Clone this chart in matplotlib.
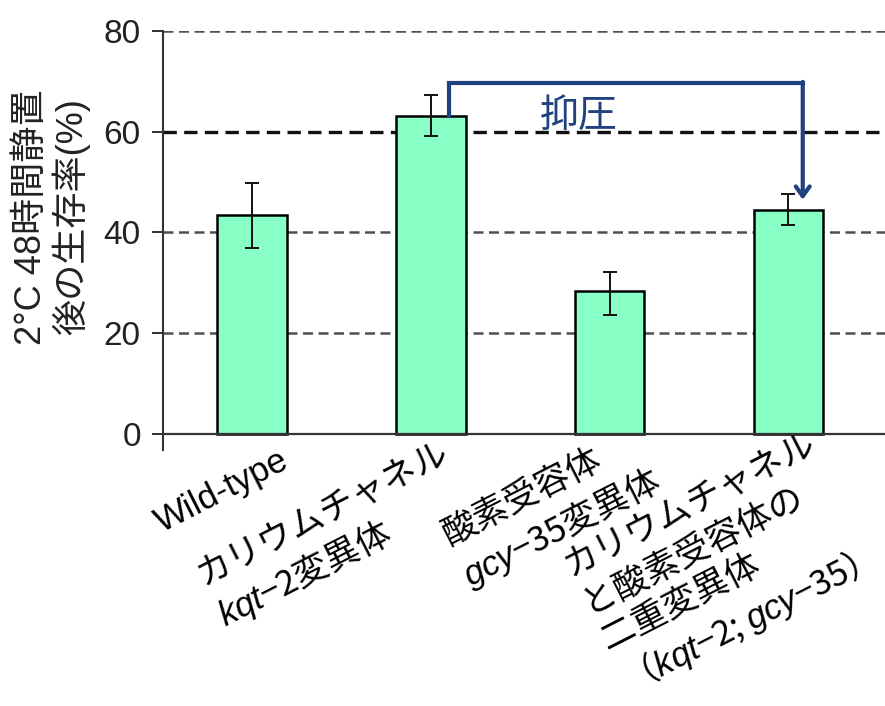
import matplotlib
matplotlib.use("Agg")
import matplotlib.pyplot as plt
from matplotlib.transforms import ScaledTranslation
import numpy as np

plt.rcParams['font.family'] = ['Liberation Sans', 'Noto Sans CJK JP']
plt.rcParams['mathtext.fontset'] = 'custom'
plt.rcParams['mathtext.rm'] = 'Noto Sans CJK JP'
plt.rcParams['mathtext.it'] = 'Liberation Sans:italic'

categories = [
    "Wild-type",
    "カリウムチャネル\n$\\mathit{kqt}$\u22122変異体",
    "酸素受容体\n$\\mathit{gcy}$\u221235変異体",
    "カリウムチャネル\nと酸素受容体の\n二重変異体\n（$\\mathit{kqt}$\u22122; $\\mathit{gcy}$\u221235）",
]
values = [43.5, 63.2, 28.3, 44.5]
err_low = [37.0, 59.1, 23.7, 41.5]
err_high = [49.9, 67.3, 32.1, 47.7]
yticks = [0, 20, 40, 60, 80]
ylabel = "2°C 48時間静置\n後の生存率(%)"
annot_text = "抑圧"

bar_color = "#88FFC4"
navy = "#1F417D"

fig = plt.figure(figsize=(8.85, 7.06), dpi=100)
ax = fig.add_axes([0.1842, 0.3626, 0.8158, 0.5935])

x = np.arange(len(values))
vals = np.array(values)
yerr = np.array([vals - np.array(err_low), np.array(err_high) - vals])

# gridlines
for t in yticks[1:]:
    ax.axhline(t, color="#111111" if t == 60 else "#505050",
               lw=2.4 if t == 60 else 1.8, ls=(0, (4, 2.2)), zorder=0)

ax.bar(x, vals, width=0.39, color=bar_color, edgecolor="black", linewidth=1.8, zorder=2)
ax.errorbar(x, vals, yerr=yerr, fmt="none", ecolor="#111111", elinewidth=1.4,
            capsize=5, capthick=1.4, zorder=3)

ax.axhline(0, color="#333333", lw=1.6, zorder=4)

ax.set_xlim(-0.497, 3.54)
ax.set_ylim(-3.18, 80)
ax.set_yticks(yticks)
ax.tick_params(axis="y", labelsize=24, length=8, width=1.3, direction="out", pad=8, colors="#222222")
ax.set_xticks(x)
ax.set_xticklabels(categories)
ax.tick_params(axis="x", length=0, pad=0, labelsize=25)

for s in ["top", "right", "bottom"]:
    ax.spines[s].set_visible(False)
ax.spines["left"].set_linewidth(1.5)
ax.spines["left"].set_color("#333333")

shifts = [(0.27, 0.06), (0.08, 0.15), (0.20, 0.27), (0.17, 0.24)]
for lab, (dx, dy) in zip(ax.get_xticklabels(), shifts):
    if "$" in lab.get_text():
        lab.set_fontfamily(["Noto Sans CJK JP", "Liberation Sans"])
    lab.set_rotation(27)
    lab.set_ha("right")
    lab.set_va("top")
    lab.set_rotation_mode("anchor")
    lab.set_multialignment("left")
    lab.set_linespacing(1.25)
    lab.set_transform(lab.get_transform() + ScaledTranslation(dx, dy, fig.dpi_scale_trans))

# suppression bracket arrow from bar 2 to bar 4
x_start = x[1] + 0.1
x_end = x[3] + 0.08
y_top = 69.6
ax.plot([x_start, x_start, x_end], [values[1], y_top, y_top], color=navy, lw=3,
        solid_joinstyle="miter", zorder=5)
ax.annotate("", xy=(x_end, err_high[3] - 1.2), xytext=(x_end, y_top + 0.3),
            arrowprops=dict(arrowstyle="->, head_length=0.7, head_width=0.5",
                            color=navy, lw=3, shrinkA=0, shrinkB=0), zorder=5)
ax.text(1.83, 63.0, annot_text, color=navy, fontsize=28, ha="center", va="center", zorder=6)

fig.text(52 / 885, 1 - 217 / 706, ylabel, rotation=90, ha="center", va="center",
         multialignment="center", fontsize=26, linespacing=1.1, color="#222222")

fig.savefig("out.png", dpi=100)
